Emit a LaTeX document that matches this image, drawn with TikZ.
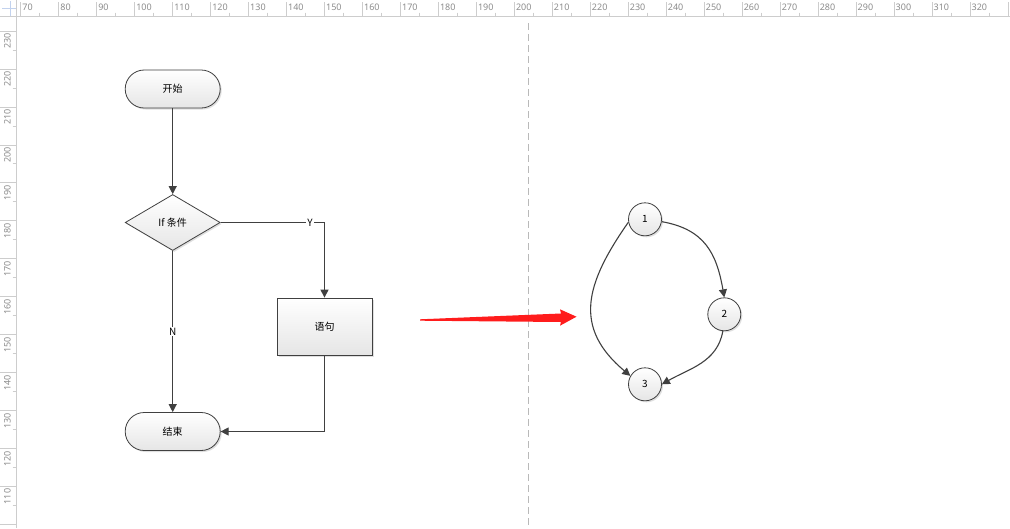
\documentclass[tikz,border=0pt]{standalone}
\usepackage{fontspec}
\newfontfamily\cjk{Noto Sans CJK SC}
\newfontfamily\rulerfont{Noto Sans}
\usepackage{tikz}
\usetikzlibrary{arrows.meta}
\usetikzlibrary{calc,positioning,shapes.geometric,shadows}

\definecolor{linegray}{HTML}{404040}
\definecolor{rulergray}{HTML}{CDCDCD}
\definecolor{rulertext}{HTML}{8C8C8C}
\definecolor{crossblue}{HTML}{C2D2EE}
\definecolor{arrowred}{HTML}{FF1C1C}

\begin{document}
\begin{tikzpicture}[x=1pt, y=-1pt,
  font=\cjk\fontsize{10}{12}\selectfont,
  block/.style={draw=linegray, line width=0.8pt, top color=white, bottom color=gray!20,
    drop shadow={shadow xshift=1.5pt, shadow yshift=-1.5pt, opacity=0.25}},
  terminal/.style={block, rectangle, rounded corners=19pt, minimum width=95pt, minimum height=38pt},
  decision/.style={block, diamond, inner sep=0pt, minimum width=95pt, minimum height=56pt},
  process/.style={block, rectangle, minimum width=95pt, minimum height=57pt},
  vertex/.style={block, circle, minimum size=33pt, inner sep=0pt},
  flow/.style={draw=linegray, line width=1.1pt, -{Triangle[length=8pt, width=8pt]}},
  branch/.style={fill=white, inner sep=1pt},
  tick/.style={draw=rulergray, line width=0.8pt},
  rulerlabel/.style={font=\rulerfont\fontsize{9}{10}\selectfont, text=rulertext, inner sep=0pt}]
  \fill[white] (0,0) rectangle (1010,528);
  \useasboundingbox (0,0) rectangle (1010,528);

  % rulers
  \draw[tick] (16,0) -- (16,528);
  \draw[tick] (0,16) -- (1010,16);
  \draw[crossblue, line width=0.8pt] (10,1) -- (10,16) (2,8.5) -- (16,8.5);
  \foreach \v in {70,80,...,330} {
    \draw[tick] ({20.7+(\v-70)*3.797},2) -- ++(0,14);
    \draw[tick] ({20.7+(\v-65)*3.797},12.5) -- ++(0,3.5);
  }
  \foreach \v in {70,80,...,320}
    \node[rulerlabel, anchor=base west] (h\v) at ({22.2+(\v-70)*3.797},10.5) {\v};
  \foreach \v in {230,220,...,100} {
    \draw[tick] (0,{31+(230-\v)*3.797}) -- ++(16,0);
    \draw[tick] (12.5,{31+(235-\v)*3.797}) -- ++(3.5,0);
  }
  \foreach \v in {230,220,...,110}
    \node[rulerlabel, rotate=90, anchor=base east] (v\v) at (10.5,{33+(230-\v)*3.797}) {\v};

  \draw[gray!55, line width=1pt, dash pattern=on 7pt off 4pt] (528.3,23) -- (528.3,528);

  % flowchart
  \node[terminal] (start) at (172.7,89) {开始};
  \node[decision, node distance=133.5pt, below of=start] (cond) {If 条件};
  \node[process] (stmt) at (324.5,326.5) {语句};
  \node[terminal, node distance=209pt, below of=cond] (finish) {结束};

  \draw[flow] (start) -- (cond);
  \draw[flow] (cond.east) -| node[branch, pos=0.43] (yes) {Y} (stmt.north);
  \draw[flow] (cond.south) -- node[branch] (no) {N} (finish.north);
  \draw[flow] (stmt.south) |- (finish.east);

  % red arrow
  \coordinate (redtail) at (420,320);
  \coordinate (redtip) at (576.5,316.7);
  \fill[arrowred] (redtail) ++(0,-0.7) -- (561,313.5) -- (560,309.3) -- (redtip)
    -- (560,325.7) -- (561,322) -- (420,320.7) -- cycle;

  % graph
  \node[vertex] (n1) at (645,219.3) {1};
  \node[vertex] (n2) at (724.3,314.3) {2};
  \node[vertex, node distance=165pt, below of=n1] (n3) {3};

  \draw[flow] (n1.-8) to[out=-10, in=100, looseness=1.15] (n2.north);
  \draw[flow] (n1.190) to[out=235, in=140, looseness=1.25] (n3.150);
  \draw[flow] (n2.-95) to[out=260, in=30] (n3.east);

\end{tikzpicture}
\end{document}
